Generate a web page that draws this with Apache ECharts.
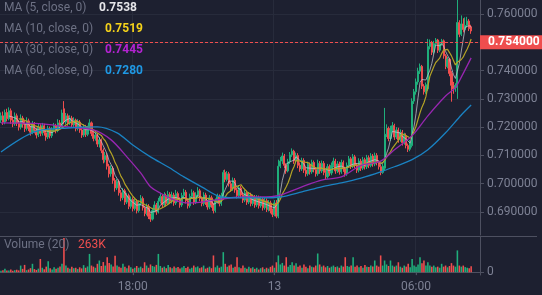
<!DOCTYPE html>
<html>
<head>
<meta charset="utf-8">
<script src="https://cdn.jsdelivr.net/npm/echarts@6/dist/echarts.min.js"></script>
<style>
  html, body { margin: 0; padding: 0; background: #1d2030; }
  #chart { width: 542px; height: 295px; }
</style>
</head>
<body>
<div id="chart"></div>
<script>
// 5-minute bars
const opens = [
  .7225,.7240,.7218,.7252,.7230,.7258,.7225,.7212,.7240,.7215,
  .7200,.7232,.7210,.7195,.7222,.7198,.7182,.7210,.7190,.7172,
  .7200,.7178,.7205,.7180,.7165,.7195,.7170,.7192,.7205,.7188,
  .7215,.7200,.7265,.7218,.7240,.7215,.7232,.7208,.7225,.7195,
  .7218,.7190,.7172,.7200,.7175,.7195,.7215,.7178,.7160,.7172,
  .7140,.7155,.7118,.7085,.7100,.7062,.7035,.7055,.7012,.6985,
  .7008,.6968,.6950,.6975,.6935,.6958,.6920,.6945,.6912,.6938,
  .6905,.6930,.6948,.6915,.6895,.6920,.6885,.6875,.6905,.6925,
  .6900,.6938,.6955,.6925,.6958,.6930,.6962,.6938,.6960,.6932,
  .6965,.6945,.6925,.6958,.6970,.6940,.6922,.6955,.6968,.6935,
  .6960,.6975,.6948,.6930,.6960,.6935,.6918,.6950,.6925,.6905,
  .6938,.6955,.6930,.6955,.7040,.7015,.7035,.7000,.6982,.7012,
  .6978,.6958,.6985,.6960,.6942,.6968,.6935,.6960,.6930,.6952,
  .6925,.6950,.6922,.6945,.6915,.6940,.6910,.6932,.6905,.6892,
  .6932,.6885,.7062,.7080,.7098,.7065,.7045,.7078,.7102,.7115,
  .7080,.7100,.7065,.7052,.7082,.7048,.7035,.7068,.7042,.7075,
  .7050,.7035,.7072,.7045,.7072,.7040,.7025,.7060,.7038,.7065,
  .7080,.7045,.7070,.7042,.7075,.7052,.7035,.7065,.7088,.7062,
  .7095,.7065,.7048,.7080,.7055,.7085,.7060,.7092,.7065,.7098,
  .7070,.7100,.7075,.7060,.7040,.7055,.7175,.7195,.7160,.7190,
  .7205,.7165,.7190,.7155,.7182,.7145,.7170,.7135,.7122,.7135,
  .7292,.7325,.7360,.7398,.7415,.7345,.7325,.7335,.7485,.7500,
  .7465,.7495,.7508,.7472,.7495,.7505,.7452,.7415,.7440,.7390,
  .7348,.7335,.7340,.7570,.7528,.7565,.7545,.7560,.7575,.7555
];
const closes = [
  .7240,.7218,.7252,.7230,.7258,.7225,.7212,.7240,.7215,.7200,
  .7232,.7210,.7195,.7222,.7198,.7182,.7210,.7190,.7172,.7200,
  .7178,.7205,.7180,.7165,.7195,.7170,.7192,.7205,.7188,.7215,
  .7200,.7250,.7218,.7240,.7215,.7232,.7208,.7225,.7195,.7218,
  .7190,.7172,.7200,.7175,.7195,.7215,.7178,.7160,.7172,.7140,
  .7155,.7118,.7085,.7100,.7062,.7035,.7055,.7012,.6985,.7008,
  .6968,.6950,.6975,.6935,.6958,.6920,.6945,.6912,.6938,.6905,
  .6930,.6948,.6915,.6895,.6920,.6885,.6875,.6905,.6925,.6900,
  .6938,.6955,.6925,.6958,.6930,.6962,.6938,.6960,.6932,.6965,
  .6945,.6925,.6958,.6970,.6940,.6922,.6955,.6968,.6935,.6960,
  .6975,.6948,.6930,.6960,.6935,.6918,.6950,.6925,.6905,.6938,
  .6955,.6930,.6958,.7040,.7015,.7035,.7000,.6982,.7012,.6978,
  .6958,.6985,.6960,.6942,.6968,.6935,.6960,.6930,.6952,.6925,
  .6950,.6922,.6945,.6915,.6940,.6910,.6932,.6905,.6892,.6932,
  .6885,.7062,.7080,.7098,.7065,.7045,.7078,.7102,.7115,.7080,
  .7100,.7065,.7052,.7082,.7048,.7035,.7068,.7042,.7075,.7050,
  .7035,.7072,.7045,.7072,.7040,.7025,.7060,.7038,.7065,.7080,
  .7045,.7070,.7042,.7075,.7052,.7035,.7065,.7088,.7062,.7095,
  .7065,.7048,.7080,.7055,.7085,.7060,.7092,.7065,.7098,.7070,
  .7100,.7075,.7060,.7040,.7062,.7175,.7195,.7160,.7190,.7205,
  .7165,.7190,.7155,.7182,.7145,.7170,.7135,.7122,.7145,.7292,
  .7325,.7360,.7398,.7415,.7345,.7325,.7350,.7485,.7500,.7465,
  .7495,.7508,.7472,.7495,.7505,.7452,.7415,.7440,.7390,.7348,
  .7335,.7348,.7570,.7528,.7565,.7545,.7560,.7575,.7548,.7540
];
const lows = [
  .7215,.7208,.7210,.7220,.7224,.7212,.7200,.7205,.7204,.7188,
  .7192,.7198,.7183,.7188,.7186,.7170,.7175,.7178,.7160,.7165,
  .7168,.7170,.7170,.7152,.7158,.7160,.7162,.7185,.7178,.7182,
  .7190,.7195,.7210,.7210,.7205,.7208,.7198,.7200,.7185,.7188,
  .7180,.7162,.7165,.7165,.7168,.7188,.7168,.7150,.7152,.7130,
  .7128,.7108,.7072,.7075,.7050,.7022,.7025,.7000,.6972,.6978,
  .6958,.6938,.6942,.6925,.6928,.6910,.6912,.6902,.6905,.6895,
  .6898,.6922,.6905,.6885,.6888,.6875,.6865,.6870,.6898,.6890,
  .6895,.6930,.6915,.6918,.6920,.6925,.6928,.6930,.6922,.6925,
  .6935,.6915,.6918,.6950,.6930,.6912,.6915,.6948,.6925,.6928,
  .6952,.6938,.6920,.6922,.6925,.6908,.6910,.6915,.6895,.6898,
  .6930,.6920,.6922,.6948,.7005,.7008,.6990,.6972,.6975,.6968,
  .6948,.6950,.6950,.6932,.6935,.6925,.6928,.6920,.6922,.6915,
  .6918,.6912,.6915,.6905,.6908,.6900,.6902,.6895,.6882,.6885,
  .6878,.6878,.7055,.7070,.7055,.7035,.7040,.7070,.7095,.7070,
  .7072,.7055,.7042,.7045,.7038,.7025,.7028,.7032,.7035,.7040,
  .7025,.7028,.7035,.7038,.7030,.7015,.7018,.7028,.7030,.7058,
  .7035,.7038,.7032,.7035,.7042,.7025,.7028,.7058,.7052,.7055,
  .7055,.7038,.7040,.7045,.7048,.7050,.7052,.7055,.7058,.7060,
  .7062,.7065,.7050,.7030,.7035,.7048,.7165,.7150,.7152,.7182,
  .7155,.7158,.7145,.7148,.7135,.7138,.7125,.7112,.7115,.7128,
  .7282,.7315,.7350,.7388,.7335,.7315,.7318,.7328,.7475,.7455,
  .7458,.7488,.7462,.7465,.7488,.7442,.7405,.7408,.7380,.7290,
  .7318,.7325,.7300,.7518,.7522,.7535,.7540,.7552,.7540,.7530
];
const highs = [
  .7252,.7255,.7262,.7265,.7270,.7266,.7238,.7252,.7248,.7225,
  .7245,.7240,.7222,.7235,.7230,.7205,.7222,.7218,.7198,.7212,
  .7210,.7215,.7212,.7190,.7205,.7202,.7200,.7215,.7212,.7228,
  .7225,.7262,.7292,.7250,.7248,.7242,.7240,.7235,.7230,.7228,
  .7225,.7198,.7210,.7208,.7205,.7228,.7220,.7185,.7182,.7178,
  .7165,.7160,.7125,.7112,.7108,.7070,.7065,.7062,.7020,.7018,
  .7015,.6978,.6985,.6982,.6968,.6965,.6955,.6952,.6948,.6945,
  .6940,.6960,.6955,.6922,.6930,.6928,.6895,.6915,.6938,.6932,
  .6950,.6968,.6962,.6970,.6965,.6975,.6970,.6972,.6968,.6978,
  .6972,.6952,.6968,.6982,.6978,.6948,.6965,.6980,.6975,.6970,
  .6988,.6982,.6955,.6970,.6968,.6942,.6960,.6958,.6932,.6948,
  .6965,.6962,.6968,.7048,.7050,.7045,.7042,.7008,.7022,.7020,
  .6985,.6995,.6992,.6968,.6978,.6975,.6970,.6968,.6962,.6960,
  .6960,.6958,.6955,.6952,.6950,.6948,.6942,.6940,.6912,.6942,
  .6942,.7085,.7095,.7110,.7105,.7072,.7088,.7112,.7125,.7120,
  .7110,.7108,.7075,.7092,.7090,.7058,.7078,.7075,.7085,.7082,
  .7058,.7085,.7080,.7082,.7080,.7048,.7070,.7068,.7075,.7092,
  .7088,.7080,.7078,.7085,.7082,.7060,.7075,.7098,.7095,.7105,
  .7102,.7072,.7090,.7088,.7095,.7092,.7102,.7100,.7108,.7105,
  .7110,.7108,.7082,.7068,.7072,.7268,.7210,.7202,.7205,.7218,
  .7212,.7200,.7198,.7192,.7190,.7180,.7178,.7142,.7155,.7302,
  .7335,.7372,.7410,.7425,.7420,.7352,.7358,.7512,.7510,.7505,
  .7505,.7515,.7512,.7502,.7512,.7510,.7458,.7448,.7445,.7398,
  .7360,.7355,.7680,.7578,.7595,.7585,.7588,.7590,.7582,.7562
];
// volume in thousands
const volumes = [
  60,90,150,70,75,120,60,90,110,80,
  300,150,330,90,120,180,380,140,100,160,
  600,200,130,250,500,180,120,220,150,200,
  260,380,1550,300,200,160,240,180,200,140,
  220,170,320,200,260,830,300,250,200,380,
  530,280,460,300,680,420,350,260,750,300,
  250,200,380,240,180,300,220,160,200,280,
  200,250,180,450,300,200,350,280,250,330,
  830,280,200,250,180,320,220,180,260,200,
  230,170,210,280,190,240,160,200,300,220,
  260,180,220,300,160,200,250,180,760,220,
  300,200,250,910,380,250,300,350,200,250,
  680,220,180,300,200,160,250,180,220,150,
  200,120,180,220,140,200,160,240,300,200,
  450,760,350,420,300,680,250,320,450,300,
  400,250,300,200,350,250,180,300,250,220,
  300,850,350,250,300,220,280,200,250,300,
  230,260,200,300,250,680,280,250,300,680,
  250,300,220,280,200,320,250,230,300,260,
  530,300,250,760,300,530,350,280,530,300,
  250,300,450,250,200,300,250,380,220,600,
  300,250,350,680,400,530,300,450,300,250,
  300,220,250,200,380,250,300,220,280,410,
  300,250,990,300,250,300,230,200,180,263
];
// MA(30) and MA(60): [bar index, value]
const ma30Points = [
  [0,0.7215],[17,0.7213],[34,0.7201],[47,0.7190],[56,0.7155],[64,0.7095],
  [71,0.7038],[76,0.6989],[81,0.6967],[88,0.6943],[95,0.6932],[102,0.6935],
  [122,0.6953],[132,0.6953],[142,0.6960],[153,0.6989],[163,0.7013],[173,0.7024],
  [183,0.7065],[193,0.7080],[200,0.7120],[209,0.7170],[217,0.7240],[226,0.7310],
  [231,0.7340],[234,0.7377],[239,0.7445]
];
const ma60Points = [
  [0,0.7112],[17,0.7183],[34,0.7197],[49,0.7201],[59,0.7180],[67,0.7137],
  [76,0.7095],[85,0.7059],[93,0.7024],[102,0.6989],[112,0.6953],[122,0.6950],
  [132,0.6950],[142,0.6953],[153,0.6971],[163,0.6989],[173,0.7003],[183,0.7020],
  [193,0.7042],[200,0.7060],[209,0.7085],[217,0.7120],[226,0.7180],[234,0.7243],
  [239,0.7278]
];
const legendLabels = ['MA (5, close, 0)', 'MA (10, close, 0)', 'MA (30, close, 0)', 'MA (60, close, 0)'];
const legendValues = ['0.7538', '0.7519', '0.7445', '0.7280'];
const lastPrice = 0.754;
const lastVolumeText = '263K';
const priceTicks = [0.69, 0.70, 0.71, 0.72, 0.73, 0.74, 0.75, 0.76];
const xTickLabels = { '12 18:00': '18:00', '13 00:00': '13', '13 06:00': '06:00' };

// category slots: 5 min each, starting 12 12:25, a few empty slots at the right
const slotCount = 244;
const pad = n => (n < 10 ? '0' : '') + n;
const categories = [];
for (let i = 0; i < slotCount; i++) {
  const t = 12 * 60 + 25 + i * 5;
  const day = 12 + Math.floor(t / 1440);
  const m = t % 1440;
  categories.push(day + ' ' + pad(Math.floor(m / 60)) + ':' + pad(m % 60));
}

const UP = '#1fae7b', DOWN = '#ef4e4e';
const FONT = 'Roboto, sans-serif';

const candles = opens.map((o, i) => [o, closes[i], lows[i], highs[i]]);
const volData = volumes.map((v, i) => ({
  value: v,
  itemStyle: { color: closes[i] >= opens[i] ? UP : DOWN }
}));

function calcMA(n) {
  return closes.map((c, i) => {
    if (i < n - 1) return '-';
    let s = 0;
    for (let k = i - n + 1; k <= i; k++) s += closes[k];
    return +(s / n).toFixed(5);
  });
}

const isTick = (idx, val) => xTickLabels[val] !== undefined;

const chart = echarts.init(document.getElementById('chart'), null, { renderer: 'canvas' });

const legendColors = ['#e6e6ea', '#f5d31a', '#b423d2', '#1f98e4'];
const graphics = [];
legendLabels.forEach((t, k) => {
  const y = [8, 29, 50, 71][k];
  graphics.push({ type: 'text', x: 4, y: y, z: 100,
    style: { text: t, fill: '#6d7184', font: '12px ' + FONT, verticalAlign: 'middle' } });
  graphics.push({ type: 'text', x: k === 0 ? 99 : 105, y: y, z: 100,
    style: { text: legendValues[k], fill: legendColors[k], font: 'bold 12px ' + FONT, verticalAlign: 'middle' } });
});
graphics.push({ type: 'line', z: 50, shape: { x1: 0, y1: 236.5, x2: 537, y2: 236.5 },
  style: { stroke: '#4d5060', lineWidth: 1 } });
graphics.push({ type: 'text', x: 4, y: 245, z: 100,
  style: { text: 'Volume (20)', fill: '#6d7184', font: '12px ' + FONT, verticalAlign: 'middle' } });
graphics.push({ type: 'text', x: 78, y: 245, z: 100,
  style: { text: lastVolumeText, fill: DOWN, font: '12px ' + FONT, verticalAlign: 'middle' } });

const option = {
  backgroundColor: '#1d2030',
  animation: false,
  textStyle: { fontFamily: FONT },
  graphic: graphics,
  grid: [
    { left: 0, right: 62, top: 0, height: 235 },
    { left: 0, right: 62, top: 237, height: 38 }
  ],
  xAxis: [
    {
      type: 'category', gridIndex: 0, data: categories, boundaryGap: true,
      axisLine: { show: false }, axisTick: { show: false }, axisLabel: { show: false },
      splitLine: { show: true, interval: isTick, lineStyle: { color: '#272b3b', width: 1 } }
    },
    {
      type: 'category', gridIndex: 1, data: categories, boundaryGap: true,
      axisLine: { show: true, lineStyle: { color: '#4d5060' } },
      axisTick: { show: true, interval: isTick, alignWithLabel: true, length: 3, lineStyle: { color: '#4d5060' } },
      axisLabel: {
        interval: isTick, color: '#7d8194', fontSize: 12, margin: 6,
        formatter: v => xTickLabels[v] || ''
      },
      splitLine: { show: true, interval: isTick, lineStyle: { color: '#272b3b', width: 1 } }
    }
  ],
  yAxis: [
    {
      type: 'value', gridIndex: 0, position: 'right', scale: true,
      min: 0.68187, max: 0.76495,
      axisLine: { show: true, lineStyle: { color: '#4d5060' } },
      axisTick: { show: true, length: 4, customValues: priceTicks, lineStyle: { color: '#4d5060' } },
      axisLabel: {
        color: '#7d8194', fontSize: 12, margin: 7, customValues: priceTicks,
        formatter: v => (Math.abs(v * 100 - Math.round(v * 100)) < 1e-6 ? v.toFixed(6) : '')
      },
      splitLine: { show: true, lineStyle: { color: '#272b3b', width: 1 } }
    },
    {
      type: 'value', gridIndex: 1, position: 'right',
      min: -130, max: 1600,
      axisLine: { show: true, lineStyle: { color: '#4d5060' } },
      axisTick: { show: true, length: 4, customValues: [0], lineStyle: { color: '#4d5060' } },
      axisLabel: {
        color: '#7d8194', fontSize: 12, margin: 7, customValues: [0],
        formatter: v => (v === 0 ? '0' : '')
      },
      splitLine: { show: false }
    }
  ],
  series: [
    {
      type: 'candlestick', xAxisIndex: 0, yAxisIndex: 0, data: candles,
      barWidth: 1.6, clip: true,
      itemStyle: { color: UP, color0: DOWN, borderColor: UP, borderColor0: DOWN, borderWidth: 1 },
      markLine: {
        symbol: 'none', silent: true, animation: false,
        lineStyle: { color: DOWN, type: [3, 2], width: 1 },
        label: {
          show: true, position: 'end', distance: 0,
          formatter: lastPrice.toFixed(6),
          backgroundColor: DOWN, color: '#ffffff', fontWeight: 'bold', fontSize: 12,
          padding: [1, 8, 1, 8]
        },
        data: [{ yAxis: lastPrice }]
      }
    },
    {
      type: 'line', name: 'MA5', data: calcMA(5), showSymbol: false, smooth: false,
      lineStyle: { color: '#c4c6cf', width: 1, opacity: 0.75 }, z: 3
    },
    {
      type: 'line', name: 'MA10', data: calcMA(10), showSymbol: false, smooth: false,
      lineStyle: { color: '#b3a226', width: 1.2 }, z: 3
    },
    {
      type: 'line', name: 'MA30', data: ma30Points, showSymbol: false, smooth: 0.3,
      lineStyle: { color: '#9726b0', width: 1.3 }, z: 3
    },
    {
      type: 'line', name: 'MA60', data: ma60Points, showSymbol: false, smooth: 0.3,
      lineStyle: { color: '#1a82c2', width: 1.3 }, z: 3
    },
    {
      type: 'bar', xAxisIndex: 1, yAxisIndex: 1, data: volData,
      barCategoryGap: '20%'
    }
  ]
};

chart.setOption(option);
</script>
</body>
</html>
